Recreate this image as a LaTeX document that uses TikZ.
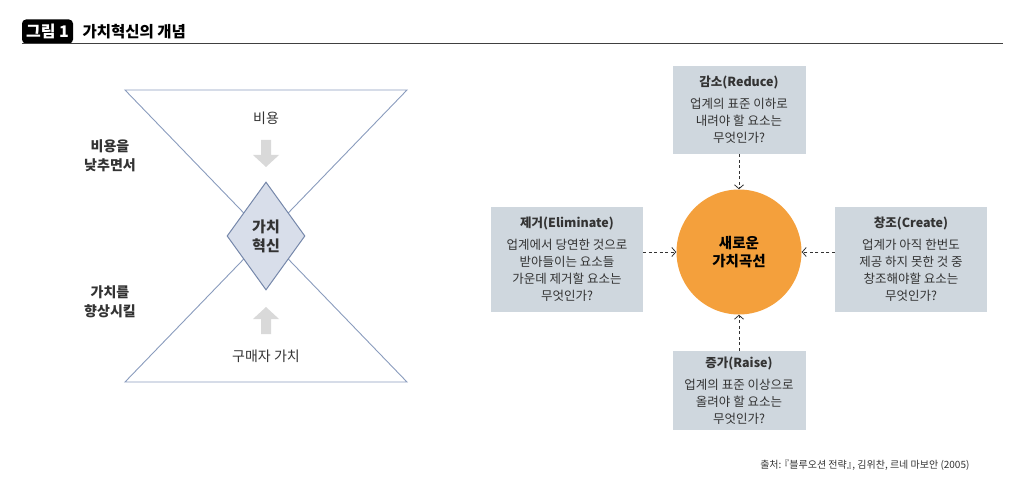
\documentclass[tikz,border=0pt]{standalone}
\usepackage{fontspec}
\setmainfont{Noto Sans CJK KR}
\usetikzlibrary{positioning,arrows.meta,shapes.geometric}
\definecolor{hgline}{HTML}{8A9CBD}
\definecolor{dmfill}{HTML}{D8DEEA}
\definecolor{dmline}{HTML}{7587AA}
\definecolor{boxfill}{HTML}{CFD7DE}
\definecolor{vcfill}{HTML}{F4A03C}
\definecolor{txtgray}{HTML}{333333}
\definecolor{arrgray}{HTML}{D9D9D9}

\begin{document}
\begin{tikzpicture}[
  x=1pt, y=-1pt,
  every node/.style={font=\fontsize{12.5}{17}\selectfont, text=txtgray},
  hglass/.style={draw=hgline, line width=0.9pt},
  sidelbl/.style={font=\fontsize{14}{19}\selectfont\bfseries, align=center},
  qbox/.style={fill=boxfill, align=center, inner sep=0pt, minimum width=133pt},
  flow/.style={draw=txtgray, dashed, dash pattern=on 3pt off 2.5pt, line width=0.8pt,
    -{Straight Barb[length=4pt, width=9pt, line width=0.8pt]}},
  costarrow/.style={fill=arrgray}
]
\useasboundingbox (0,0) rectangle (1031,484);

% title bar
\node[fill=black, text=white, rounded corners=4pt, minimum width=51pt, minimum height=24pt,
  inner sep=0pt, font=\fontsize{16}{18}\selectfont\bfseries] (fig) at (47.5,31.5) {그림 1};
\node[anchor=west, font=\fontsize{15.5}{18}\selectfont\bfseries, text=black] (title) at (79,31.5) {가치혁신의 개념};
\coordinate (rule end) at (1003,44);
\draw[line width=1.2pt, black!75] (fig.south west) -- (fig.south west -| rule end);

% hourglass
\coordinate (tl) at (125,90);
\coordinate (tr) at (407,90);
\coordinate (bl) at (125,382);
\coordinate (br) at (407,382);
\draw[hglass] (tl) -- (tr) -- (bl) -- (br) -- cycle;
\node[diamond, draw=dmline, line width=1pt, fill=dmfill, minimum width=78pt, minimum height=108pt,
  inner sep=0pt, align=center, font=\fontsize{15}{19}\selectfont\bfseries] (vi) at (266,236) {가치\\혁신};
\node (cost) at (266,118) {\fontsize{14}{16}\selectfont 비용};
\node (buyer) at (266,356) {\fontsize{14}{16}\selectfont 구매자 가치};
\fill[costarrow] (261,140) -- (271,140) -- (271,155) -- (279,155) -- (266,167) -- (253,155) -- (261,155) -- cycle;
\fill[costarrow] (261,334) -- (271,334) -- (271,319) -- (279,319) -- (266,307) -- (253,319) -- (261,319) -- cycle;
\node[sidelbl] (lower) at (110,156) {비용을\\낮추면서};
\node[sidelbl] (raise) at (110,302) {가치를\\향상시킬};

% four actions
\node[circle, fill=vcfill, minimum size=125pt, inner sep=0pt, align=center,
  font=\fontsize{14.5}{18}\selectfont\bfseries, text=black] (vc) at (739,252) {새로운\\가치곡선};
\node[qbox, minimum height=88pt, above=35pt of vc] (reduce)
  {{\bfseries 감소(Reduce)}\\[5pt]업계의 표준 이하로\\내려야 할 요소는\\무엇인가?};
\node[qbox, minimum height=79pt, below=36pt of vc] (raisebox)
  {{\bfseries 증가(Raise)}\\[5pt]업계의 표준 이상으로\\올려야 할 요소는\\무엇인가?};
\node[qbox, minimum width=152pt, minimum height=105pt] (elim) at (567,259.5)
  {{\bfseries 제거(Eliminate)}\\[5pt]업계에서 당연한 것으로\\받아들이는 요소들\\가운데 제거할 요소는\\무엇인가?};
\node[qbox, minimum width=152pt, minimum height=105pt] (create) at (911,259.5)
  {{\bfseries 창조(Create)}\\[5pt]업계가 아직 한번도\\제공 하지 못한 것 중\\창조해야할 요소는\\무엇인가?};
\draw[flow] (reduce) -- (vc);
\draw[flow] (raisebox) -- (vc);
\draw[flow] (elim.east |- vc) -- (vc.west);
\draw[flow] (create.west |- vc) -- (vc.east);

\node[anchor=east, font=\fontsize{10}{12}\selectfont] (src) at (973,465)
  {출처:\kern-0.2em『블루오션 전략』\kern-0.45em, 김위찬, 르네 마보안 (2005)};
\end{tikzpicture}
\end{document}
